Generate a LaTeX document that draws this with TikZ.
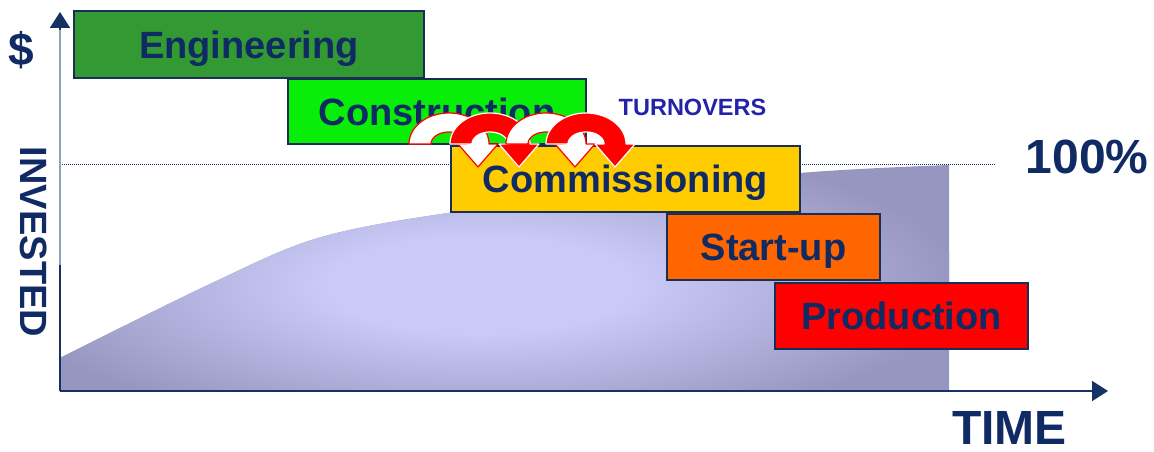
\documentclass[tikz,border=0pt]{standalone}
\usepackage{fontspec}
\setmainfont{Liberation Sans}
\usetikzlibrary{arrows.meta}
\definecolor{engfill}{RGB}{51,153,51}
\definecolor{confill}{RGB}{8,238,8}
\definecolor{comfill}{RGB}{255,204,0}
\definecolor{startfill}{RGB}{255,102,0}
\definecolor{prodfill}{RGB}{255,0,0}
\definecolor{navytext}{RGB}{16,42,100}
\definecolor{boxborder}{RGB}{25,45,85}
\definecolor{axisnavy}{RGB}{20,50,100}
\definecolor{axislight}{RGB}{150,160,185}
\definecolor{turnblue}{RGB}{35,35,170}
\definecolor{areain}{RGB}{202,202,248}
\definecolor{areaout}{RGB}{150,150,192}
\definecolor{arrowred}{RGB}{255,0,0}
\pgfdeclareradialshading{areashade}{\pgfpoint{0bp}{0bp}}{color(0bp)=(areain); color(16bp)=(areain); color(50bp)=(areaout)}
\newcommand\myturnarrow[3]{%
  \path[fill=#2, draw=#3, line width=1.2pt, line join=round]
    plot[domain=180:360, samples=40] ({#1+40*cos(\x)},{144+31*sin(\x)})
    -- ({#1+49},144) -- ({#1+29},167) -- ({#1+9},144) -- ({#1+18},144)
    -- plot[domain=360:180, samples=40] ({#1+18*cos(\x)},{144+12*sin(\x)})
    -- cycle;}
\def\myareapath{plot[smooth, tension=0.55] coordinates {(60,358) (212,283) (318,238) (448,213) (620,194) (800,173) (949,165)} -- (949,391) -- (60,391) -- cycle}
\tikzset{
  phase/.style={draw=boxborder, line width=1.5pt, inner sep=0pt, text=navytext,
    text depth=0pt, font=\fontsize{38}{40}\selectfont\bfseries},
  bigtext/.style={inner sep=0pt, text=navytext, font=\fontsize{48}{50}\selectfont\bfseries},
  axisline/.style={draw=axisnavy, line width=2pt, -{Triangle[length=16pt,width=20pt]}},
  dotline/.style={draw=axisnavy, line width=1pt, dash pattern=on 1pt off 1pt}
}
\begin{document}
\begin{tikzpicture}[x=1pt,y=-1pt]
\useasboundingbox (0,0) rectangle (1154,452);
% invested area
\fill[areaout] \myareapath;
\begin{scope}
  \clip \myareapath;
  \begin{scope}[transform canvas={shift={(480,285)}, xscale=9.6, yscale=3.0}]
    \pgftext{\pgfuseshading{areashade}}
  \end{scope}
\end{scope}
% dotted 100% line
\coordinate (dl) at (60,164);
\coordinate (dr) at (995,164);
\draw[dotline] (dl) -- (dr);
% axes
\coordinate (origin) at (60,391);
\coordinate (ytop) at (60,12);
\coordinate (ymid) at (60,265);
\coordinate (ylight) at (60,30);
\coordinate (xend) at (1108,391);
\draw[axisline] (origin) -- (ytop);
\draw[axislight, line width=2pt] (ymid) -- (ylight);
\draw[axisline] (origin) -- (xend);
% labels
\node[inner sep=0pt, text=navytext, font=\fontsize{46}{48}\selectfont\bfseries, anchor=base] (dollar) at (21,66) {\$};
\node[inner sep=0pt, text=navytext, font=\fontsize{38}{40}\selectfont\bfseries, rotate=-90] (invested) at (33.5,242) {INVESTED};
\node[bigtext, anchor=base] (time) at (1009.5,444) {TIME};
\node[bigtext, anchor=base] (pct) at (1087,173) {100\%};
% phases
\node[phase, fill=engfill, minimum width=350pt, minimum height=67pt] (eng) at (249,44.5) {Engineering};
\node[phase, fill=confill, minimum width=298pt, minimum height=65pt] (con) at (437,111.5) {Construction};
\node[phase, fill=comfill, minimum width=349pt, minimum height=66pt] (com) at (625.5,179) {Commissioning};
\node[phase, fill=startfill, minimum width=213pt, minimum height=66pt] (sta) at (773.5,247) {Start-up};
\node[phase, fill=prodfill, minimum width=253pt, minimum height=66pt] (pro) at (901.5,316) {Production};
% turnovers
\node[inner sep=0pt, text=turnblue, font=\fontsize{23.5}{25}\selectfont\bfseries, anchor=base] (turn) at (692.5,115) {TURNOVERS};
\myturnarrow{449}{white}{arrowred}
\myturnarrow{490}{arrowred}{white}
\myturnarrow{546}{white}{arrowred}
\myturnarrow{586}{arrowred}{white}
\end{tikzpicture}
\end{document}
